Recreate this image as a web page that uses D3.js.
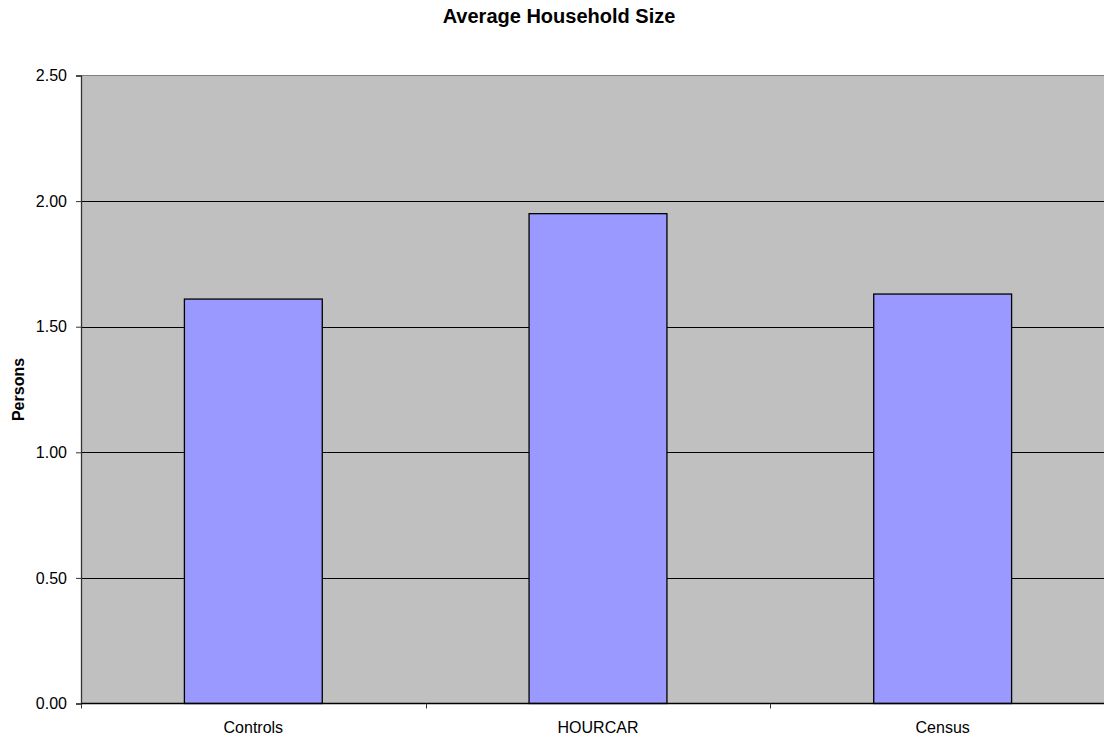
<!DOCTYPE html>
<html>
<head>
<meta charset="utf-8">
<script src="https://cdn.jsdelivr.net/npm/d3@7"></script>
<style>
  html, body { margin: 0; padding: 0; background: #fff; overflow: hidden; }
  svg { display: block; font-family: Arial, "Liberation Sans", sans-serif; }
</style>
</head>
<body>
<svg id="chart" width="1104" height="738"></svg>
<script>
// Average household size by source
const categories = ["Controls", "HOURCAR", "Census"];
const values = [1.61, 1.95, 1.63];
const yTicks = [0, 0.5, 1.0, 1.5, 2.0, 2.5];

const svg = d3.select("#chart");
const plot = { left: 81, right: 1115, top: 75.5, bottom: 703.5 };

const x = d3.scaleBand()
  .domain(categories)
  .range([plot.left, plot.right])
  .paddingInner(0)
  .paddingOuter(0);

const y = d3.scaleLinear()
  .domain([0, 2.5])
  .range([plot.bottom, plot.top]);

// Plot background
svg.append("rect")
  .attr("x", plot.left)
  .attr("y", plot.top)
  .attr("width", plot.right - plot.left)
  .attr("height", plot.bottom - plot.top)
  .attr("fill", "#c0c0c0");

// Top border of plot area
svg.append("line")
  .attr("x1", plot.left).attr("x2", plot.right)
  .attr("y1", plot.top).attr("y2", plot.top)
  .attr("stroke", "#808080").attr("stroke-width", 1);

// Horizontal gridlines
svg.append("g")
  .selectAll("line")
  .data(yTicks.filter(d => d > 0 && d < 2.5))
  .join("line")
  .attr("x1", plot.left).attr("x2", plot.right)
  .attr("y1", d => Math.round(y(d)) + 0.5)
  .attr("y2", d => Math.round(y(d)) + 0.5)
  .attr("stroke", "#000").attr("stroke-width", 1);

// Bars: width is 40% of each category band (gap 150%)
const barFrac = 0.4;
svg.append("g")
  .selectAll("rect")
  .data(categories.map((c, i) => ({ c, v: values[i] })))
  .join("rect")
  .attr("x", d => x(d.c) + x.bandwidth() * (1 - barFrac) / 2)
  .attr("y", d => y(d.v))
  .attr("width", x.bandwidth() * barFrac)
  .attr("height", d => y(0) - y(d.v))
  .attr("fill", "#9999ff")
  .attr("stroke", "#000")
  .attr("stroke-width", 1.3);

// Y axis
const yAxis = d3.axisLeft(y)
  .tickValues(yTicks)
  .tickSize(5)
  .tickPadding(9)
  .tickFormat(d3.format(".2f"));
const gy = svg.append("g")
  .attr("transform", `translate(${plot.left},0)`)
  .call(yAxis);
gy.select(".domain").attr("stroke", "#333").attr("stroke-width", 1.3);
gy.selectAll(".tick line").attr("stroke", "#333");
gy.selectAll(".tick text")
  .attr("font-size", 16)
  .attr("font-family", "Arial, 'Liberation Sans', sans-serif")
  .attr("fill", "#000");

// X axis: ticks at band boundaries, labels centred in bands
const gx = svg.append("g")
  .attr("transform", `translate(0,${plot.bottom})`);
gx.append("line")
  .attr("x1", plot.left).attr("x2", plot.right)
  .attr("y1", 0).attr("y2", 0)
  .attr("stroke", "#000").attr("stroke-width", 1.3);
const bounds = categories.map(c => x(c)).concat([x.range()[1]]);
gx.selectAll("line.tk")
  .data(bounds)
  .join("line")
  .attr("class", "tk")
  .attr("x1", d => Math.round(d) + 0.5).attr("x2", d => Math.round(d) + 0.5)
  .attr("y1", 0).attr("y2", 5)
  .attr("stroke", "#333");
gx.selectAll("text")
  .data(categories)
  .join("text")
  .attr("x", d => x(d) + x.bandwidth() / 2)
  .attr("y", 29.5)
  .attr("text-anchor", "middle")
  .attr("font-size", 16)
  .attr("fill", "#000")
  .text(d => d);

// Title
svg.append("text")
  .attr("x", 559)
  .attr("y", 22.5)
  .attr("text-anchor", "middle")
  .attr("font-size", 20)
  .attr("font-weight", "bold")
  .text("Average Household Size");

// Y axis title
svg.append("text")
  .attr("transform", `translate(24,${(plot.top + plot.bottom) / 2}) rotate(-90)`)
  .attr("text-anchor", "middle")
  .attr("font-size", 16)
  .attr("font-weight", "bold")
  .text("Persons");
</script>
</body>
</html>
